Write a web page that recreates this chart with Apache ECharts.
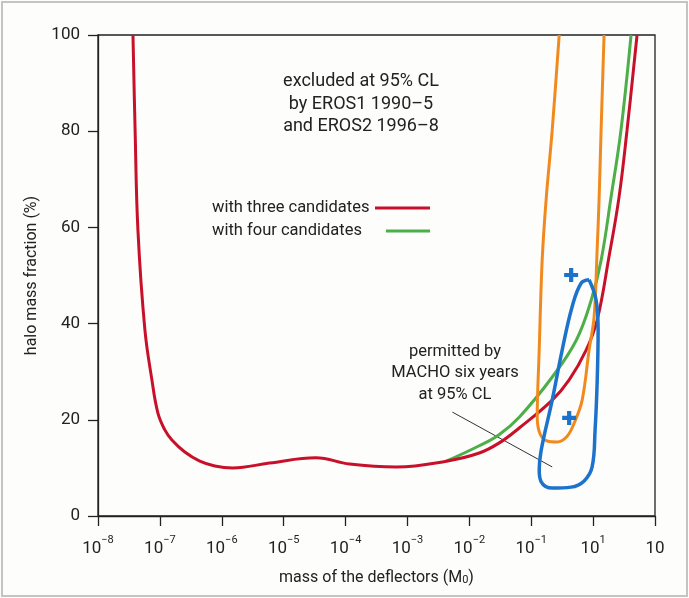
<!DOCTYPE html>
<html><head><meta charset="utf-8">
<script src="https://cdn.jsdelivr.net/npm/echarts@6/dist/echarts.min.js"></script>
<style>html,body{margin:0;padding:0;background:#fdfdfb}#c{width:689px;height:598px}</style>
</head><body><div id="c"></div>
<script>
// x axis: log10 of the deflector mass (M0); tick labels as printed in the original
const xTickExponents = [-8,-7,-6,-5,-4,-3,-2,-1,0,1];
const xTickBase = ['10','10','10','10','10','10','10','10','10','10'];
const xTickSup  = ['\u22128','\u22127','\u22126','\u22125','\u22124','\u22123','\u22122','\u22121','1',''];
const yTicks = [0,20,40,60,80,100];

// EROS exclusion, three candidates (red)
const redLogMass  = [-7.435,-7.40,-7.355,-7.242,-7.129,-7.032,-6.92,-6.806,-6.597,-6.355,-6.113,-5.823,-5.23,-4.48,-3.935,-3.177,-2.371,-1.839,-1.516,-1.194,-0.661,-0.387,-0.113,0.065,0.258,0.419,0.548,0.710];
const redFraction = [100,80,59.5,38.7,28.3,21.4,17.9,15.8,13.3,11.4,10.4,10.0,11.0,12.1,10.8,10.2,11.4,13.1,15.2,18.3,24.1,28.3,34.5,40.7,54,66.3,80.2,100];

// EROS exclusion, four candidates (green)
const greenLogMass  = [-2.371,-1.84,-1.52,-1.19,-0.66,-0.27,-0.03,0.13,0.29,0.45,0.613];
const greenFraction = [11.4,14.6,16.9,20.6,28.9,36.6,44.9,53.2,66.3,80.2,100];

// orange contour (open at top)
const orangeLogMass  = [-0.548,-0.661,-0.758,-0.823,-0.871,-0.903,-0.855,-0.742,-0.581,-0.419,-0.306,-0.177,-0.065,0.016,0.065,0.097,0.129,0.177];
const orangeFraction = [100,80.2,66,53.2,34.5,20.6,17,15.6,15.4,16.6,19.3,24.1,34.5,41.4,55.3,66,80.2,100];

// MACHO six-year 95% CL contour (blue, closed)
const blueLogMass  = [-0.065,0.048,0.081,0.065,0.032,-0.016,-0.145,-0.355,-0.661,-0.839,-0.871,-0.839,-0.661,-0.500,-0.339,-0.194,-0.065];
const blueFraction = [49.1,44.9,38.7,27.7,17.9,10.2,7.3,6.0,5.8,7.1,9.6,13.7,24.1,34.5,43.5,48.4,49.1];

// MACHO best-fit crosses
const crossLogMass  = [-0.355,-0.387];
const crossFraction = [50.1,20.4];

// annotation pointer
const pointerLogMass  = [-2.274,-0.661];
const pointerFraction = [21.6,10.2];

const zip = (a,b) => a.map((v,i)=>[v,b[i]]);
const FONT = 'Roboto, "Liberation Sans", sans-serif';
const TXT = '#222';

const chart = echarts.init(document.getElementById('c'));
chart.setOption({
  backgroundColor:'#fdfdfb',
  animation:false,
  grid:{left:98,right:34,top:35,bottom:82,show:true,borderColor:'#222',borderWidth:1.3,backgroundColor:'transparent'},
  xAxis:{
    type:'value',min:-8,max:1,interval:1,
    axisLine:{onZero:false,lineStyle:{color:'#222',width:1.3}},
    axisTick:{show:true,inside:false,length:10,lineStyle:{color:'#222',width:1.3}},
    splitLine:{show:false},
    axisLabel:{margin:19,
      formatter:v=>{const i=xTickExponents.indexOf(Math.round(v));
        return '{b|'+xTickBase[i]+'}'+(xTickSup[i]?'{s|'+xTickSup[i]+'}':'');},
      rich:{b:{fontFamily:FONT,fontSize:17,color:TXT,lineHeight:22,verticalAlign:'bottom'},
            s:{fontFamily:FONT,fontSize:11,color:TXT,lineHeight:12,verticalAlign:'top'}}},
    name:'mass of the deflectors (M{sub|0})',nameLocation:'middle',nameGap:54,
    nameTextStyle:{fontFamily:FONT,fontSize:16,color:TXT,
      rich:{sub:{fontFamily:FONT,fontSize:11,color:TXT,lineHeight:11,verticalAlign:'bottom',padding:[9,0,0,0]}}}
  },
  yAxis:{
    type:'value',min:0,max:100,interval:20,
    axisLine:{onZero:false,lineStyle:{color:'#222',width:1.3}},
    axisTick:{show:true,inside:false,length:10,lineStyle:{color:'#222',width:1.3}},
    splitLine:{show:false},
    axisLabel:{margin:18,fontFamily:FONT,fontSize:17,color:TXT,formatter:v=>String(yTicks[yTicks.indexOf(v)])},
    name:'halo mass fraction (%)',nameLocation:'middle',nameGap:52,nameRotate:90,
    nameTextStyle:{fontFamily:FONT,fontSize:16,color:TXT}
  },
  series:[
    {type:'line',data:zip(pointerLogMass,pointerFraction),symbol:'none',lineStyle:{color:'#333',width:1},z:1},
    {type:'line',name:'with four candidates',data:zip(greenLogMass,greenFraction),symbol:'none',smooth:0.4,clip:true,lineStyle:{color:'#4dae4a',width:3},z:2},
    {type:'line',name:'with three candidates',data:zip(redLogMass,redFraction),symbol:'none',smooth:0.4,clip:true,lineStyle:{color:'#c8102a',width:3},z:3},
    {type:'line',data:zip(orangeLogMass,orangeFraction),symbol:'none',smooth:0.35,clip:true,lineStyle:{color:'#f08a1e',width:3},z:4},
    {type:'line',data:zip(blueLogMass,blueFraction),symbol:'none',smooth:0.4,clip:true,lineStyle:{color:'#1c73cc',width:3.5},z:5},
    {type:'scatter',data:zip(crossLogMass,crossFraction),symbol:'path://M3.5,0H6.5V3.5H10V6.5H6.5V10H3.5V6.5H0V3.5H3.5Z',symbolSize:14,itemStyle:{color:'#1c73cc',opacity:1},z:6}
  ],
  graphic:[
    {type:'rect',shape:{x:2,y:2,width:685,height:594},style:{fill:'none',stroke:'#c4c4c4',lineWidth:2},silent:true,z:-1},
    {type:'text',x:361,y:104,style:{text:'excluded at 95% CL\nby EROS1 1990\u20135\nand EROS2 1996\u20138',font:'18px '+FONT,fill:TXT,align:'center',verticalAlign:'middle',lineHeight:22.5}},
    {type:'text',x:212,y:208,style:{text:'with three candidates',font:'16.5px '+FONT,fill:TXT,align:'left',verticalAlign:'middle'}},
    {type:'text',x:212,y:231,style:{text:'with four candidates',font:'16.5px '+FONT,fill:TXT,align:'left',verticalAlign:'middle'}},
    {type:'line',shape:{x1:375,y1:208,x2:430,y2:208},style:{stroke:'#c8102a',lineWidth:3}},
    {type:'line',shape:{x1:386,y1:231,x2:430,y2:231},style:{stroke:'#4dae4a',lineWidth:3}},
    {type:'text',x:455,y:373,style:{text:'permitted by\nMACHO six years\nat 95% CL',font:'16.5px '+FONT,fill:TXT,align:'center',verticalAlign:'middle',lineHeight:21.5}}
  ]
});
</script></body></html>
